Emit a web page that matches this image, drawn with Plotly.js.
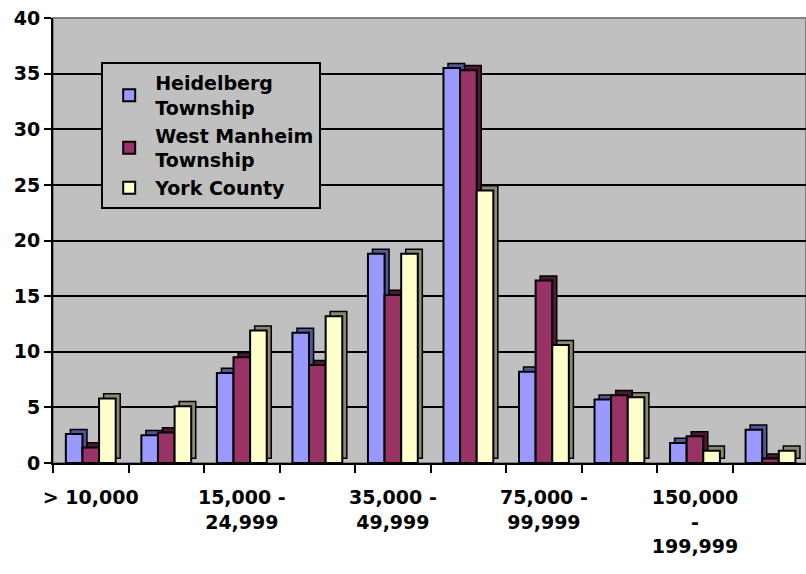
<!DOCTYPE html>
<html>
<head>
<meta charset="utf-8">
<script src="https://cdn.plot.ly/plotly-3.0.1.min.js"></script>
<style>html,body{margin:0;padding:0;background:#fff;}#chart{width:806px;height:574px;}</style>
</head>
<body>
<div id="chart"></div>
<script>
// Income brackets (every other label is shown on the axis)
const categories = ["> 10,000", "10,000 - 14,999", "15,000 - 24,999", "25,000 - 34,999",
  "35,000 - 49,999", "50,000 - 74,999", "75,000 - 99,999", "100,000 - 149,999",
  "150,000 - 199,999", "200,000 +"];
const tickLabels = ["> 10,000", "", "15,000 -<br>24,999", "", "35,000 -<br>49,999", "",
  "75,000 -<br>99,999", "", "150,000<br>-<br>199,999", ""];
const seriesNames = ["Heidelberg<br>Township", "West Manheim<br>Township", "York County"];
const heidelberg  = [2.6, 2.5, 8.1, 11.7, 18.8, 35.5, 8.2, 5.7, 1.8, 3.0];
const westManheim = [1.4, 2.75, 9.5, 8.8, 15.1, 35.3, 16.4, 6.1, 2.4, 0.4];
const yorkCounty  = [5.8, 5.1, 11.9, 13.2, 18.8, 24.5, 10.6, 5.9, 1.1, 1.1];

const seriesValues = [heidelberg, westManheim, yorkCounty];
const frontColors = ["#9999ff", "#993366", "#ffffcc"];
const sideColors  = ["#55559a", "#4d1a33", "#8a8a70"];
const barW = 0.22, offsets = [-0.33, -0.11, 0.11];
const depthX = 0.06, depthY = 0.42;

const traces = [];
seriesValues.forEach((vals, i) => {
  traces.push({
    type: "bar", x: categories, y: vals, base: depthY,
    width: barW, offset: offsets[i] + depthX,
    marker: {color: sideColors[i], line: {color: "black", width: 1.5}},
    showlegend: false, hoverinfo: "skip"
  });
  traces.push({
    type: "bar", x: categories, y: vals, name: seriesNames[i],
    width: barW, offset: offsets[i],
    marker: {color: frontColors[i], line: {color: "black", width: 2}}
  });
});

const font = {family: "DejaVu Sans", size: 19, weight: "bold", color: "black"};
const layout = {
  width: 806, height: 574,
  margin: {l: 53, r: 0, t: 18, b: 111},
  paper_bgcolor: "#ffffff",
  plot_bgcolor: "#c0c0c0",
  barmode: "overlay",
  font: font,
  showlegend: true,
  legend: {
    x: 0.064, y: 0.901, xanchor: "left", yanchor: "top",
    bgcolor: "#c0c0c0", bordercolor: "black", borderwidth: 2,
    font: font, traceorder: "normal", itemwidth: 42
  },
  xaxis: {
    type: "category", categoryorder: "array", categoryarray: categories,
    range: [-0.5, 9.47],
    tickvals: categories, ticktext: tickLabels,
    tickson: "boundaries", ticks: "outside", ticklen: 8, tickwidth: 2, tickcolor: "black",
    showline: true, linecolor: "black", linewidth: 2,
    showgrid: false, tickangle: 0, tickfont: font, ticklabelstandoff: 16
  },
  yaxis: {
    range: [0, 40], dtick: 5, tick0: 0,
    ticks: "outside", ticklen: 7, tickwidth: 2, tickcolor: "black",
    showline: true, linecolor: "black", linewidth: 2,
    showgrid: true, gridcolor: "black", gridwidth: 2,
    zeroline: false, tickfont: font
  },
  shapes: [{
    type: "rect", xref: "paper", yref: "paper", x0: 0, x1: 1, y0: 0, y1: 1,
    line: {color: "#808080", width: 2}, layer: "below"
  }]
};

Plotly.newPlot("chart", traces, layout, {displayModeBar: false, staticPlot: true});
</script>
</body>
</html>
